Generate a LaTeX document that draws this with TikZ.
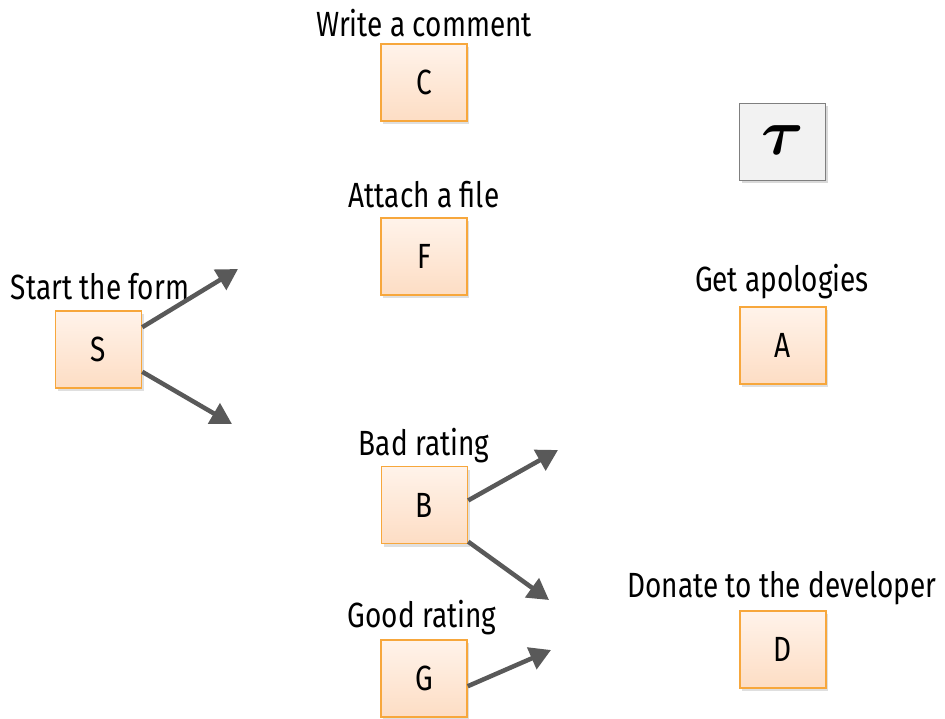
\documentclass[tikz,border=0pt]{standalone}
\usepackage{fontspec}
\usepackage{amsmath,bm,graphicx}
\setmainfont{Fira Sans}[FakeStretch=0.8]
\usetikzlibrary{shadows,arrows.meta}
\definecolor{boxtop}{HTML}{FFF3EA}
\definecolor{boxbot}{HTML}{FDDDC4}
\definecolor{boxline}{HTML}{F7A73C}
\definecolor{arr}{HTML}{595959}
\definecolor{taufill}{HTML}{F2F2F2}
\definecolor{tauline}{HTML}{7F7F7F}
\tikzset{
  statebox/.style={draw=boxline, line width=1.5pt, top color=boxtop, bottom color=boxbot,
    minimum width=86pt, minimum height=77pt, inner sep=0pt, font=\fontsize{35}{36}\selectfont,
    drop shadow={opacity=0.25, shadow xshift=2pt, shadow yshift=-3pt}},
  taubox/.style={draw=tauline, line width=1.2pt, fill=taufill,
    minimum width=86pt, minimum height=77pt, inner sep=0pt,
    drop shadow={opacity=0.3, shadow xshift=2pt, shadow yshift=-3pt}},
  lbl/.style={font=\fontsize{35}{36}\selectfont, inner sep=0pt},
  arrow/.style={draw=arr, line width=4.5pt, -{Triangle[length=21pt,width=23pt]}, shorten >=0pt},
}
\begin{document}
\begin{tikzpicture}[x=1pt,y=-1pt]
\useasboundingbox (0,0) rectangle (945,719);
\node[statebox] (C) at (424,82.5) {C};
\node[statebox] (F) at (424,256.5) {F};
\node[statebox] (S) at (98.5,349.5) {S};
\node[statebox] (A) at (783,345.5) {A};
\node[statebox] (B) at (424.5,505) {B};
\node[statebox] (G) at (424,678.5) {G};
\node[statebox] (D) at (783,649.5) {D};
\node[taubox] (T) at (782.5,142) {\raisebox{4pt}{\scalebox{6.5}{$\bm{\tau}$}}};

\node[lbl] (lC) at (424,23) {Write a comment};
\node[lbl] (lF) at (424,195) {Attach a file};
\node[lbl] (lS) at (100,287) {Start the form};
\node[lbl] (lA) at (782,282) {Get apologies};
\node[lbl] (lB) at (424,446) {Bad rating};
\node[lbl] (lG) at (422,618) {Good rating};
\node[lbl] (lD) at (782,588) {Donate to the developer};

\coordinate (s1) at (238,269);
\coordinate (s2) at (232,424);
\coordinate (b1) at (558,450);
\coordinate (b2) at (549,600);
\coordinate (g1) at (551,650);

\draw[arrow] (S.27) -- (s1);
\draw[arrow] (S.-27) -- (s2);
\draw[arrow] (B.6) -- (b1);
\draw[arrow] (B.-40) -- (b2);
\draw[arrow] (G.-10) -- (g1);
\end{tikzpicture}
\end{document}
